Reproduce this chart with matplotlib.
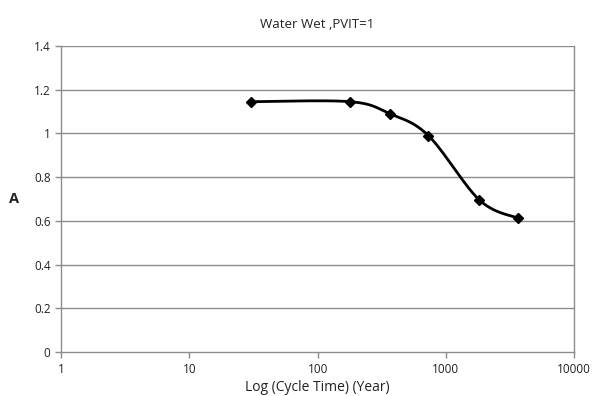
import matplotlib
matplotlib.use("Agg")
import matplotlib.pyplot as plt
import numpy as np

plt.rcParams["font.family"] = ["Open Sans", "DejaVu Sans"]

cycle_time = [30, 180, 365, 730, 1825, 3650]
a_values = [1.145, 1.145, 1.09, 0.99, 0.695, 0.612]
x_ticks = [1, 10, 100, 1000, 10000]
x_tick_labels = ["1", "10", "100", "1000", "10000"]
y_ticks = [0, 0.2, 0.4, 0.6, 0.8, 1.0, 1.2, 1.4]
y_tick_labels = ["0", "0.2", "0.4", "0.6", "0.8", "1", "1.2", "1.4"]


def smooth_curve(xs, ys, n=40):
    # Catmull-Rom style bezier through the points (like a smoothed line), in log-x space
    lx = np.log10(xs)
    ys = np.asarray(ys, dtype=float)
    px = np.concatenate([[lx[0]], lx, [lx[-1]]])
    py = np.concatenate([[ys[0]], ys, [ys[-1]]])
    out_x, out_y = [], []
    t = np.linspace(0, 1, n)
    for i in range(1, len(px) - 2):
        p0 = np.array([px[i], py[i]])
        p3 = np.array([px[i + 1], py[i + 1]])
        p1 = p0 + (np.array([px[i + 1], py[i + 1]]) - np.array([px[i - 1], py[i - 1]])) / 6
        p2 = p3 - (np.array([px[i + 2], py[i + 2]]) - np.array([px[i], py[i]])) / 6
        b = ((1 - t) ** 3)[:, None] * p0 + (3 * (1 - t) ** 2 * t)[:, None] * p1 \
            + (3 * (1 - t) * t ** 2)[:, None] * p2 + (t ** 3)[:, None] * p3
        out_x.extend(b[:, 0])
        out_y.extend(b[:, 1])
    return 10 ** np.array(out_x), np.array(out_y)


fig = plt.figure(figsize=(5.92, 3.96), dpi=100)
ax = fig.add_axes([0.103, 0.111, 0.867, 0.773])

grid_color = "#8c8c8c"
for y in y_ticks[1:]:
    ax.axhline(y, color=grid_color, linewidth=1.0, zorder=0)

sx, sy = smooth_curve(cycle_time, a_values)
ax.plot(sx, sy, color="black", linewidth=2.0, zorder=2)
ax.plot(cycle_time, a_values, linestyle="none", marker="D", markersize=5.5,
        color="black", zorder=3)

ax.set_xscale("log")
ax.set_xlim(1, 10000)
ax.set_ylim(0, 1.4)
ax.set_xticks(x_ticks)
ax.set_xticklabels(x_tick_labels)
ax.minorticks_off()
ax.set_yticks(y_ticks)
ax.set_yticklabels(y_tick_labels)

for side in ["left", "bottom", "right"]:
    ax.spines[side].set_color(grid_color)
    ax.spines[side].set_linewidth(1.0)
ax.spines["top"].set_visible(False)

ax.tick_params(axis="both", colors=grid_color, labelcolor="#222222", labelsize=8.5,
               length=4, width=1.0, direction="out")
ax.tick_params(axis="x", pad=4)

ax.set_title("Water Wet ,PVIT=1", fontsize=9.5, color="#222222", pad=13)
ax.set_xlabel("Log (Cycle Time) (Year)", fontsize=10, color="#222222", labelpad=3)
ax.set_ylabel("A", fontsize=10.5, fontweight="bold", rotation=0, color="#222222",
              labelpad=14, va="center")

fig.savefig("out.png", dpi=100)
